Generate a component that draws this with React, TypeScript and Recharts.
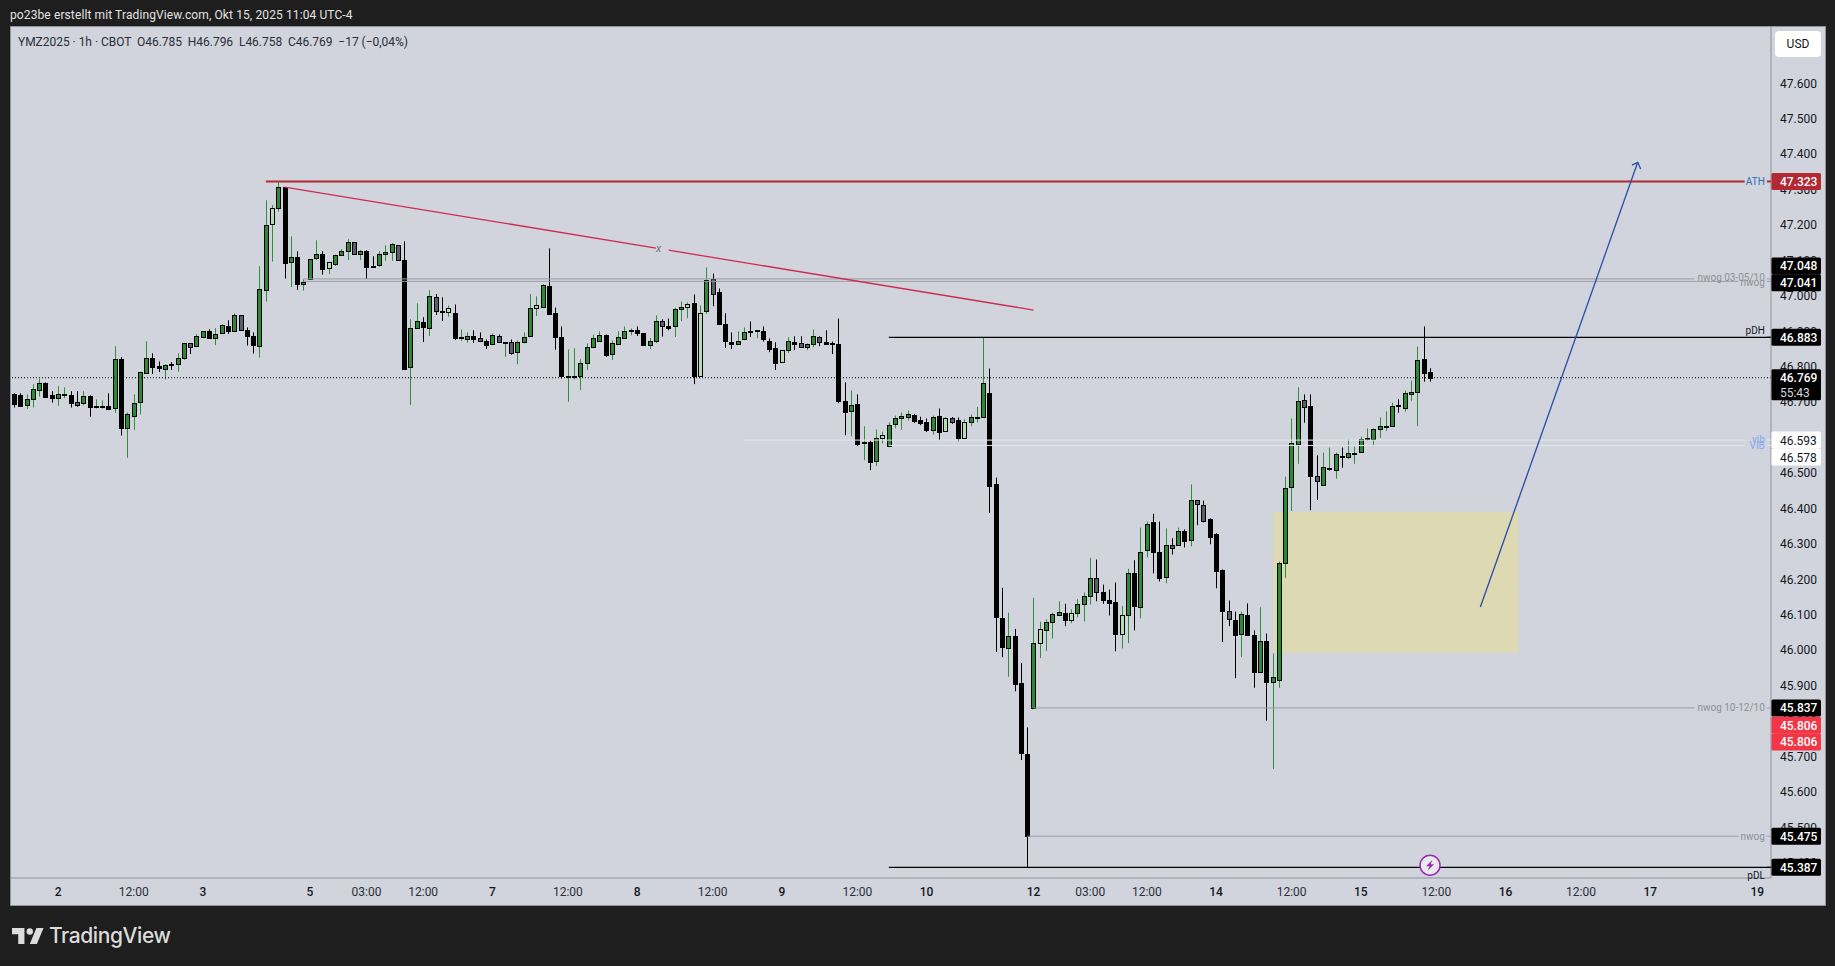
import React from "react";
import { ComposedChart, Bar, XAxis, YAxis, ReferenceLine, ReferenceArea, ReferenceDot } from "recharts";

// Prices are in thousandths of a USD (46.785 => 46785).
const kinds = [
  "d","d","u","u","u","d","d","u","u","d","g","u","d","u","u","d",
  "u","d","u","u","u","u","d","d","u","d","u","u","g","u","u","d",
  "u","u","d","u","g","d","d","u","u","l","u","d","u","d","u","u",
  "u","d","l","u","u","u","g","u","d","d","u","u","u","g","d","u",
  "u","d","u","g","d","l","d","u","u","d","g","d","u","g","u","g",
  "u","u","u","l","u","d","d","d","u","u","u","u","u","u","d","u",
  "u","u","l","d","d","u","u","g","d","u","u","l","d","l","u","g",
  "d","d","d","u","u","d","u","d","d","d","l","u","d","g","u","u",
  "g","d","d","d","d","u","d","u","d","u","l","u","u","u","u","d",
  "d","d","u","d","l","g","d","l","u","u","u","d","d","d","u","d",
  "d","d","u","l","u","u","u","d","l","u","u","u","g","d","d","d",
  "l","u","d","u","u","d","d","u","g","u","d","u","g","g","d","d",
  "d","g","d","u","d","d","u","d","u","u","u","u","u","g","d","g",
  "u","u","u","d","u","u","u","u","u","u","u","u","d","u","u","u",
  "d","d",
];

const highs = [
  46725,46725,46722,46751,46766,46756,46731,46745,46742,46731,
  46731,46731,46719,46708,46705,46725,46858,46827,46671,46722,
  46786,46872,46838,46815,46807,46813,46838,46866,46866,46892,
  46900,46906,46909,46920,46931,46951,46945,46911,46897,47084,
  47270,47256,47321,47307,47168,47126,47047,47103,47157,47126,
  47095,47116,47132,47160,47151,47130,47129,47112,47126,47143,
  47149,47143,47154,46934,46979,46940,47016,47005,46996,46973,
  46976,46905,46897,46903,46897,46877,46894,46891,46870,46877,
  46874,46897,47005,46999,47033,47134,46967,46914,46849,46852,
  46821,46866,46891,46900,46891,46874,46900,46914,46908,46914,
  46894,46881,46945,46934,46936,46967,46984,46982,47004,46973,
  47080,47063,47021,46951,46897,46900,46911,46928,46903,46914,
  46880,46869,46846,46883,46886,46886,46866,46905,46886,46903,
  46871,46936,46756,46733,46722,46632,46592,46623,46617,46643,
  46662,46671,46676,46667,46659,46654,46662,46682,46658,46658,
  46657,46652,46665,46687,46883,46795,46487,46176,46106,46060,
  45964,45782,46148,46080,46087,46106,46138,46131,46115,46144,
  46163,46261,46256,46185,46171,46191,46125,46230,46254,46346,
  46363,46385,46363,46344,46316,46346,46341,46468,46424,46422,
  46372,46330,46228,46140,46109,46109,46132,46056,46121,46047,
  45991,46250,46490,46654,46742,46722,46722,46550,46558,46572,
  46558,46572,46595,46575,46603,46626,46626,46657,46674,46699,
  46708,46733,46761,46857,46914,46796,
];

const bodyTops = [
  46722,46719,46708,46736,46753,46753,46719,46722,46722,46719,
  46700,46717,46717,46688,46688,46688,46821,46821,46666,46697,
  46784,46824,46824,46801,46804,46807,46824,46866,46866,46886,
  46900,46900,46892,46917,46914,46945,46945,46903,46886,47019,
  47199,47247,47307,47307,47109,47109,47038,47103,47117,47117,
  47095,47115,47126,47151,47151,47126,47126,47084,47117,47123,
  47146,47143,47100,46909,46928,46925,47001,46996,46957,46965,
  46951,46883,46888,46888,46880,46874,46891,46888,46870,46871,
  46869,46883,46967,46973,47030,47027,46951,46883,46775,46775,
  46812,46857,46880,46891,46891,46866,46883,46900,46905,46905,
  46894,46874,46928,46928,46914,46962,46970,46976,46979,46953,
  47044,47047,47010,46922,46871,46874,46897,46900,46903,46900,
  46874,46852,46846,46874,46871,46866,46863,46886,46883,46871,
  46866,46863,46702,46691,46694,46589,46589,46600,46606,46637,
  46654,46660,46668,46665,46650,46645,46659,46662,46656,46656,
  46649,46645,46659,46657,46753,46725,46468,46092,46039,46041,
  45906,45707,46019,46060,46080,46103,46109,46106,46106,46131,
  46153,46205,46205,46163,46143,46135,46100,46219,46219,46278,
  46357,46363,46278,46298,46298,46337,46337,46424,46424,46410,
  46369,46328,46225,46112,46084,46101,46098,46042,46027,46025,
  45923,46245,46459,46584,46702,46705,46688,46493,46516,46513,
  46553,46547,46558,46558,46595,46598,46623,46634,46634,46688,
  46691,46725,46730,46818,46821,46785,
];

const bodyBottoms = [
  46696,46690,46693,46708,46733,46716,46713,46711,46720,46699,
  46693,46697,46687,46687,46687,46682,46683,46628,46626,46662,
  46700,46782,46800,46797,46793,46804,46807,46824,46855,46858,
  46885,46880,46880,46894,46900,46900,46903,46886,46861,46858,
  47016,47202,47247,47094,47095,47033,47033,47047,47106,47077,
  47078,47089,47115,47126,47117,47117,47081,47081,47086,47117,
  47123,47100,46795,46798,46909,46911,46909,46957,46954,46954,
  46880,46880,46879,46879,46874,46862,46863,46871,46868,46839,
  46842,46871,46886,46967,46970,46950,46885,46775,46774,46774,
  46775,46812,46855,46874,46834,46835,46865,46880,46900,46896,
  46862,46862,46874,46914,46910,46914,46962,46970,46775,46775,
  46956,47004,46920,46873,46865,46865,46879,46899,46902,46879,
  46851,46811,46814,46846,46865,46856,46856,46863,46871,46865,
  46863,46703,46673,46676,46583,46586,46532,46535,46600,46577,
  46639,46654,46659,46648,46641,46622,46622,46616,46619,46644,
  46599,46599,46645,46656,46659,46464,46094,46009,46007,45905,
  45710,45476,45837,46021,46057,46079,46099,46086,46086,46105,
  46130,46153,46165,46142,46134,46046,46046,46099,46125,46122,
  46283,46278,46204,46207,46289,46298,46307,46311,46412,46366,
  46320,46224,46111,46089,46043,46046,46043,45939,45939,45911,
  45911,45916,46245,46461,46583,46687,46492,46478,46467,46512,
  46509,46544,46546,46557,46560,46597,46597,46623,46631,46633,
  46690,46685,46722,46730,46783,46769,
];

const lows = [
  46685,46689,46681,46685,46716,46712,46699,46690,46711,46685,
  46687,46691,46659,46682,46682,46682,46670,46606,46543,46622,
  46665,46782,46780,46785,46764,46791,46786,46820,46836,46857,
  46881,46879,46861,46894,46893,46899,46903,46860,46837,46826,
  46984,47097,47238,47049,47025,47017,47015,47047,47101,47060,
  47062,47085,47115,47101,47117,47101,47048,47081,47082,47099,
  47099,47100,46795,46692,46909,46870,46887,46946,46929,46941,
  46876,46873,46868,46867,46870,46850,46862,46871,46828,46834,
  46807,46866,46885,46943,46969,46946,46848,46767,46701,46764,
  46734,46791,46854,46871,46828,46819,46864,46879,46889,46887,
  46859,46850,46867,46885,46903,46884,46929,46937,46751,46775,
  46949,46971,46918,46853,46850,46864,46878,46884,46880,46871,
  46841,46791,46811,46839,46847,46855,46847,46855,46858,46864,
  46836,46697,46607,46604,46576,46536,46508,46520,46584,46577,
  46626,46622,46648,46641,46635,46616,46608,46593,46616,46639,
  46590,46599,46632,46643,46658,46387,45995,45980,45925,45884,
  45690,45387,45837,45978,45998,46033,46099,46068,46076,46093,
  46081,46129,46138,46131,46098,45997,46005,46020,46056,46090,
  46262,46217,46194,46189,46270,46297,46290,46293,46353,46361,
  46299,46175,46023,46068,45921,45981,46040,45894,45939,45801,
  45665,45894,46204,46393,46526,46642,46395,46424,46467,46506,
  46484,46515,46540,46526,46558,46591,46577,46599,46619,46633,
  46670,46673,46704,46633,46758,46758,
];

const SLOT_COUNT = 280;
const PRICE_DOMAIN = [45.357, 47.759];
const priceTicks = [45.4,45.5,45.6,45.7,45.8,45.9,46,46.1,46.2,46.3,46.4,46.5,46.6,46.7,46.8,46.9,47,47.1,47.2,47.3,47.4,47.5,47.6];
const timeTickSlots = [7,19,30,47,56,65,76,88,99,111,122,134,145,162,171,180,191,203,214,226,237,249,260,277];
const timeTickLabels = ["2","12:00","3","5","03:00","12:00","7","12:00","8","12:00","9","12:00","10","12","03:00","12:00","14","12:00","15","12:00","16","12:00","17","19"];

const levelPrices = [47.323, 47.048, 47.041, 46.883, 46.593, 46.578, 45.837, 45.475, 45.387];
const levelStarts = [40, 46, 46, 139, 116, 139, 162, 161, 139];
const levelEnds = [275, 267, 274, 279, 275, 275, 267, 274, 279];
const levelColors = ["#B22833", "#9B9CA6", "#9B9CA6", "#000000", "#E3E5EC", "#E3E5EC", "#9B9CA6", "#9B9CA6", "#000000"];
const levelWidths = [2, 1, 1, 1.3, 1, 1, 1, 1, 1.3];
const levelTexts = ["ATH", "nwog 03-05/10", "nwog", "pDH", "vib", "VIB", "nwog 10-12/10", "nwog", "pDL"];
const levelTextColors = ["#2E6DB4", "#8E909B", "#8E909B", "#131722", "#86A6F0", "#86A6F0", "#8E909B", "#8E909B", "#131722"];
const levelTextShift = [0, -1, 1.5, -7, -0.5, 0, 0, 0, 8];

const badgePrices = [47.323, 47.048, 47.041, 46.883, 46.769, 46.593, 46.578, 45.837, 45.806, 45.806, 45.475, 45.387];
const badgeShift = [0, -13, 1.4, 0, 0, 0, 11.7, 0, 6.3, 23, 0, 0];
const badgeFills = ["#B22833", "#000000", "#000000", "#000000", "#000000", "#FFFFFF", "#FFFFFF", "#000000", "#F23645", "#F23645", "#000000", "#000000"];
const badgeInks = ["#FFFFFF", "#FFFFFF", "#FFFFFF", "#FFFFFF", "#FFFFFF", "#131722", "#131722", "#FFFFFF", "#FFFFFF", "#FFFFFF", "#FFFFFF", "#FFFFFF"];

const LAST_PRICE = 46.769;
const COUNTDOWN = "55:43";

const rows = Array.from({ length: SLOT_COUNT }, (_, i) =>
  i < highs.length
    ? { i, kind: kinds[i], high: highs[i] / 1000, top: bodyTops[i] / 1000, bottom: bodyBottoms[i] / 1000, low: lows[i] / 1000, range: [lows[i] / 1000, highs[i] / 1000] }
    : { i, range: null }
);

const FONT = "Roboto, sans-serif";
const bodyFill: Record<string, string> = { u: "#2D8A34", d: "#000000", l: "#B4DDB0", g: "#5B5D6B" };

function Candle(props: any) {
  const { x, y, width, height, payload } = props;
  if (!payload || payload.high == null || !isFinite(y)) return null;
  const t = Math.min(y, y + height);
  const h = Math.abs(height);
  const span = payload.high - payload.low || 1;
  const at = (p: number) => t + ((payload.high - p) / span) * h;
  const c = Math.round(x + width / 2 - 0.5) + 0.5;
  const bt = Math.round(at(payload.top));
  const bb = Math.max(Math.round(at(payload.bottom)), bt + 1);
  const up = payload.kind === "u" || payload.kind === "l";
  return (
    <g>
      <line x1={c} x2={c} y1={t} y2={t + h} stroke={up ? "#2F8F37" : "#000000"} strokeWidth={1} />
      <rect x={c - 2} y={bt + 0.5} width={4} height={bb - bt} fill={bodyFill[payload.kind]} stroke="#000000" strokeWidth={1} />
    </g>
  );
}

function TimeTick(props: any) {
  const { x, y, payload } = props;
  const label = timeTickLabels[timeTickSlots.indexOf(payload.value)];
  const isDay = label && !label.includes(":");
  return (
    <text x={x} y={y + 8} textAnchor="middle" fontFamily={FONT} fontSize={12} fontWeight={isDay ? 500 : 400} fill={isDay ? "#131722" : "#2A2E39"}>
      {label}
    </text>
  );
}

function BoxShape(props: any) {
  const { x, y, width, height } = props;
  return <rect x={x - 2.7} y={y} width={width + 6} height={height} fill="#DCD9B3" />;
}

function LevelTag(props: any) {
  const { cx, cy, idx } = props;
  if (!isFinite(cy)) return null;
  return (
    <g>
      <line x1={cx - 3} x2={cx + 1.2} y1={cy} y2={cy} stroke={levelColors[idx]} strokeWidth={levelWidths[idx]} />
      <text x={cx - 5} y={cy + levelTextShift[idx] + 3.5} textAnchor="end" fontFamily={FONT} fontSize={10} fill={levelTextColors[idx]}>
        {levelTexts[idx]}
      </text>
    </g>
  );
}

function Badge(props: any) {
  const { cx, cy, idx } = props;
  if (!isFinite(cy)) return null;
  const yc = cy + badgeShift[idx];
  const left = cx + 1.6;
  const live = badgePrices[idx] === LAST_PRICE;
  return (
    <g>
      <rect x={left} y={yc - 8.5} width={49.5} height={live ? 31 : 17} rx={1.5} fill={badgeFills[idx]} />
      <text x={left + 8.5} y={yc + 4.5} fontFamily={FONT} fontSize={12} fontWeight={badgeFills[idx] === "#FFFFFF" ? 400 : 500} fill={badgeInks[idx]}>
        {badgePrices[idx].toFixed(3)}
      </text>
      {live && (
        <text x={left + 8.5} y={yc + 19} fontFamily={FONT} fontSize={12} fill="#D6D6D6">
          {COUNTDOWN}
        </text>
      )}
    </g>
  );
}

function ArrowHead(props: any) {
  const { cx, cy } = props;
  return (
    <polyline points={`${cx - 5.7},${cy + 2.7} ${cx},${cy} ${cx + 3},${cy + 6.7}`} fill="none" stroke="#2A4CA5" strokeWidth={1.3} />
  );
}

function FlashIcon(props: any) {
  const { cx, cy } = props;
  const c = cx;
  return (
    <g>
      <circle cx={c} cy={cy} r={10} fill="#E9EAEF" stroke="#9C27B0" strokeWidth={1.5} />
      <path d={`M${c + 2.5},${cy - 5.5} L${c - 4},${cy + 1} L${c - 0.5},${cy + 1} L${c - 2.5},${cy + 5.5} L${c + 4},${cy - 1} L${c + 0.5},${cy - 1} Z`} fill="#9C27B0" />
    </g>
  );
}

function CrossMark(props: any) {
  const { cx, cy } = props;
  return (
    <text x={cx - 3.6} y={cy + 4} textAnchor="middle" fontFamily={FONT} fontStyle="italic" fontSize={11} fill="#6F717B">
      x
    </text>
  );
}

const slotPadding = { left: 0, right: -2 };

export default function App() {
  return (
    <div style={{ position: "absolute", left: 0, top: 0, width: 1835, height: 966, background: "#1E1E1E", overflow: "hidden", fontFamily: FONT }}>
      <div style={{ position: "absolute", left: 10, top: 7, color: "#E3E3E3", fontSize: 12, lineHeight: "16px", whiteSpace: "nowrap", letterSpacing: 0.11 }}>
        po23be erstellt mit TradingView.com, Okt 15, 2025 11:04 UTC-4
      </div>
      <div style={{ position: "absolute", left: 10, top: 26, width: 1814, height: 878, background: "#D1D4DC", border: "1px solid #8F929B" }} />
      <div style={{ position: "absolute", left: 0, top: 0 }}>
        <ComposedChart width={1835} height={966} data={rows} margin={{ top: 27, right: 10, bottom: 61, left: 11 }} barCategoryGap={0}>
          <XAxis
            dataKey="i"
            type="category"
            scale="band"
            padding={slotPadding}
            height={27}
            ticks={timeTickSlots}
            interval={0}
            tickSize={0}
            tickMargin={10}
            tick={<TimeTick />}
            axisLine={{ stroke: "#8F929B" }}
            tickLine={false}
          />
          <YAxis
            orientation="right"
            type="number"
            width={54}
            domain={PRICE_DOMAIN}
            allowDataOverflow
            ticks={priceTicks}
            interval={0}
            tickSize={0}
            tickMargin={9}
            tickFormatter={(v: number) => v.toFixed(3)}
            tick={{ fill: "#131722", fontSize: 12, fontFamily: FONT }}
            axisLine={{ stroke: "#8F929B" }}
            tickLine={false}
          />
          <ReferenceArea x1={201} x2={238} y1={45.9924} y2={46.3905} ifOverflow="visible" shape={<BoxShape />} />
          {levelPrices.map((p, k) => (
            <ReferenceLine
              key={"lvl" + k}
              segment={[{ x: levelStarts[k], y: p }, { x: levelEnds[k], y: p }]}
              stroke={levelColors[k]}
              strokeWidth={levelWidths[k]}
              ifOverflow="visible"
            />
          ))}
          <ReferenceLine y={LAST_PRICE} stroke="#000000" strokeWidth={1} strokeDasharray="1 2" />
          <ReferenceLine segment={[{ x: 43, y: 47.307 }, { x: 102, y: 47.135 }]} stroke="#CF2A52" strokeWidth={1.3} ifOverflow="visible" />
          <ReferenceLine segment={[{ x: 104, y: 47.129 }, { x: 162, y: 46.96 }]} stroke="#CF2A52" strokeWidth={1.3} ifOverflow="visible" />
          <ReferenceLine segment={[{ x: 233, y: 46.122 }, { x: 258, y: 47.377 }]} stroke="#2A4CA5" strokeWidth={1.3} ifOverflow="visible" />
          <Bar dataKey="range" barSize={5} isAnimationActive={false} shape={<Candle />} />
          <ReferenceDot x={103} y={47.135} r={1} ifOverflow="visible" shape={<CrossMark />} />
          <ReferenceDot x={258} y={47.377} r={1} ifOverflow="visible" shape={<ArrowHead />} />
          <ReferenceDot x={225} y={45.393} r={1} ifOverflow="visible" shape={<FlashIcon />} />
        </ComposedChart>
      </div>
      <div style={{ position: "absolute", left: 0, top: 0 }}>
        <ComposedChart width={1835} height={966} data={rows} margin={{ top: 27, right: 64, bottom: 88, left: 11 }}>
          <XAxis dataKey="i" type="category" scale="band" padding={slotPadding} hide />
          <YAxis type="number" domain={PRICE_DOMAIN} allowDataOverflow hide />
          {levelPrices.map((p, k) => (
            <ReferenceDot key={"tag" + k} x={279} y={p} r={1} ifOverflow="visible" shape={<LevelTag idx={k} />} />
          ))}
          {badgePrices.map((p, k) => (
            <ReferenceDot key={"bdg" + k} x={279} y={p} r={1} ifOverflow="visible" shape={<Badge idx={k} />} />
          ))}
        </ComposedChart>
      </div>
      <div style={{ position: "absolute", left: 18, top: 34, color: "#2A2E39", fontSize: 12, lineHeight: "16px", whiteSpace: "pre", letterSpacing: -0.03 }}>
        {"YMZ2025 · 1h · CBOT  O46.785  H46.796  L46.758  C46.769  −17 (−0,04%)"}
      </div>
      <div style={{ position: "absolute", left: 1775, top: 31, width: 46, height: 26, background: "#FFFFFF", borderRadius: 4, color: "#131722", fontSize: 12, lineHeight: "26px", textAlign: "center" }}>
        USD
      </div>
      <svg style={{ position: "absolute", left: 12, top: 928 }} width={32} height={16} viewBox="0 0 36 18">
        <path d="M14 18H7V7H0V0h14v18zM28 18h-8L27.5 0h8L28 18z" fill="#DCDCDC" />
        <circle cx="20" cy="4" r="3.6" fill="#DCDCDC" />
      </svg>
      <div style={{ position: "absolute", left: 49, top: 923, color: "#DCDCDC", fontSize: 21, fontWeight: 500, lineHeight: "26px", fontFamily: "Inter, sans-serif", letterSpacing: -0.4 }}>
        TradingView
      </div>
    </div>
  );
}
